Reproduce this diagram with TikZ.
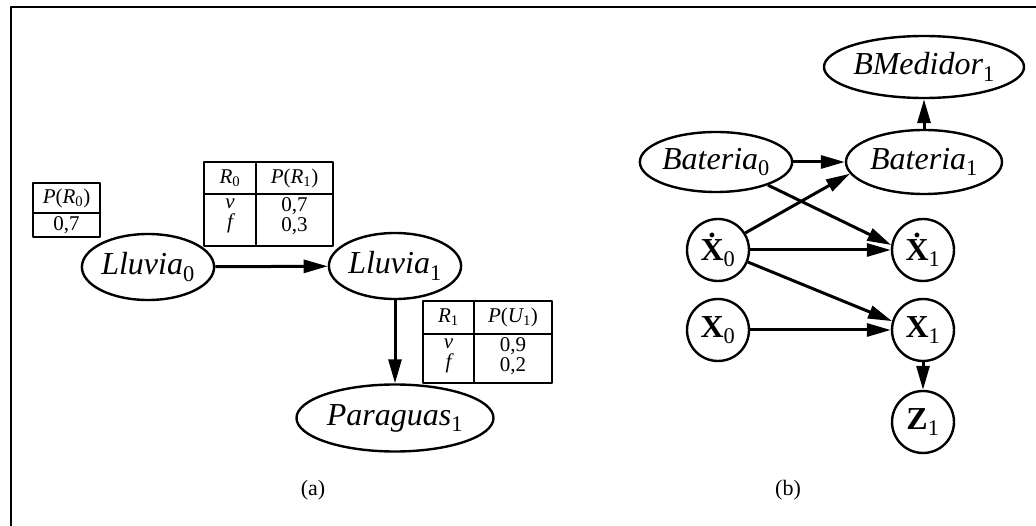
\documentclass[tikz,border=0pt]{standalone}
\usepackage{fontspec}
\setmainfont{Liberation Serif}
\usetikzlibrary{arrows.meta,shapes.geometric}
\newcommand{\lowidx}[1]{\textsubscript{\upshape #1}}
\newcommand{\dotX}{\textbf{\.X}}
\begin{document}
\begin{tikzpicture}[x=1pt,y=-1pt,line join=round]
\useasboundingbox (0,0) rectangle (1036,526);
\tikzset{elli/.style={draw,ellipse,line width=2.4pt,inner sep=0pt,font=\fontsize{32}{34}\selectfont\itshape},
  circ/.style={draw,circle,line width=2.4pt,inner sep=0pt,minimum size=62pt,font=\fontsize{32}{34}\selectfont},
  arr/.style={draw,line width=3pt,-{Triangle[length=24pt,width=13pt]}},
  tbl/.style={draw,line width=1.6pt},
  cell/.style={inner sep=0pt,font=\fontsize{21}{20}\selectfont},
  caption/.style={font=\fontsize{22}{24}\selectfont}}
\draw[line width=2pt] (11,526) -- (11,7) -- (1036,7);
% (a)
\node[elli,minimum width=129pt,minimum height=66pt] (lluvia0) at (148,267) {Lluvia\lowidx{0}};
\node[elli,minimum width=128pt,minimum height=66pt] (lluvia1) at (395,266) {Lluvia\lowidx{1}};
\node[elli,minimum width=197pt,minimum height=67pt] (paraguas) at (395,418) {Paraguas\lowidx{1}};
\draw[arr] (lluvia0) -- (lluvia1);
\draw[arr] (lluvia1) -- (paraguas);
\draw[tbl] (33,183) rectangle (100,237); \draw[tbl] (33,213) -- (100,213);
\node[cell] (pr0) at (66.5,198) {\itshape P\upshape(\itshape R\lowidx{0}\upshape)};
\node[cell] (pr0v) at (66.5,225) {0,7};
\draw[tbl] (204,162) rectangle (333,246); \draw[tbl] (204,194) -- (333,194); \draw[tbl] (256,162) -- (256,246);
\node[cell] (hr0) at (230,178) {\itshape R\lowidx{0}};
\node[cell] (hpr1) at (294.5,178) {\itshape P\upshape(\itshape R\lowidx{1}\upshape)};
\node[cell,align=center] (r0vals) at (230,216) {\itshape v\\\itshape f};
\node[cell,align=center] (pr1vals) at (294.5,216) {0,7\\0,3};
\draw[tbl] (423,301) rectangle (552,383); \draw[tbl] (423,334) -- (552,334); \draw[tbl] (474,301) -- (474,383);
\node[cell] (hr1) at (448.5,317) {\itshape R\lowidx{1}};
\node[cell] (hpu1) at (513,317) {\itshape P\upshape(\itshape U\lowidx{1}\upshape)};
\node[cell,align=center] (r1vals) at (448.5,356) {\itshape v\\\itshape f};
\node[cell,align=center] (pu1vals) at (513,356) {0,9\\0,2};
\node[caption] (capa) at (313,490) {(a)};
% (b)
\node[elli,minimum width=178pt,minimum height=62pt] (bmedidor) at (924,67) {BMedidor\lowidx{1}};
\node[elli,minimum width=148pt,minimum height=60pt] (bateria0) at (716,162) {Bateria\lowidx{0}};
\node[elli,minimum width=156pt,minimum height=64pt] (bateria1) at (924,162) {Bateria\lowidx{1}};
\node[circ] (xdot0) at (718,250) {\dotX\lowidx{0}};
\node[circ] (xdot1) at (923,250) {\dotX\lowidx{1}};
\node[circ] (x0) at (718,330) {\textbf{X}\lowidx{0}};
\node[circ] (x1) at (923,330) {\textbf{X}\lowidx{1}};
\node[circ] (z1) at (923,422) {\textbf{Z}\lowidx{1}};
\draw[arr] (bateria1) -- (bmedidor);
\draw[arr] (bateria0) -- (bateria1);
\draw[arr] (xdot0.32) -- (bateria1.189);
\draw[arr] (bateria0.336) -- (xdot1.171);
\draw[arr] (xdot0) -- (xdot1);
\draw[arr] (xdot0.338) -- (x1.164);
\draw[arr] (x0) -- (x1);
\draw[arr] (x1) -- (z1);
\node[caption] (capb) at (788,490) {(b)};
\end{tikzpicture}
\end{document}
